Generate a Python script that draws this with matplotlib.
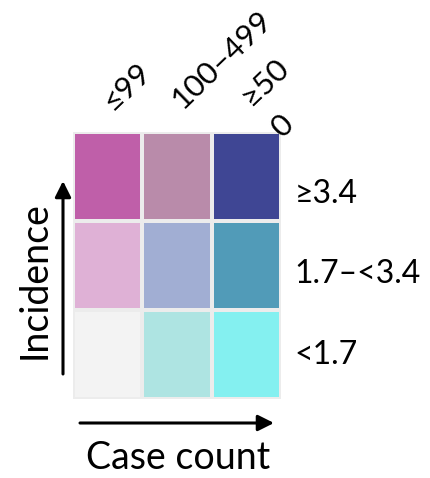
import numpy as np
import matplotlib
matplotlib.use('Agg')
import matplotlib.pyplot as plt
from matplotlib.colors import ListedColormap
from matplotlib.patches import FancyArrowPatch
from matplotlib.transforms import offset_copy

plt.rcParams['font.family'] = ['Lato', 'DejaVu Sans']

# bivariate legend: case count (columns) x incidence (rows, bottom -> top)
case_count_labels = ['≤99', '100–499', '≥50\n0']
incidence_labels = ['<1.7', '1.7–<3.4', '≥3.4']
cell_colors = [
    ['#F3F3F3', '#AEE4E2', '#84F0F0'],   # <1.7
    ['#DFB1D6', '#A1AED3', '#519BB8'],   # 1.7-<3.4
    ['#BF5FA9', '#B98BAA', '#3F4694'],   # >=3.4
]
x_title = 'Case count'
y_title = 'Incidence'

W, H = 431, 478
fig = plt.figure(figsize=(W / 100, H / 100), dpi=100)
ax = fig.add_axes([73 / W, 1 - 399 / H, 208 / W, 267 / H])

flat = [c for row in cell_colors for c in row]
idx = np.arange(len(flat)).reshape(3, 3)
ax.pcolormesh(np.arange(4), np.arange(4), idx, cmap=ListedColormap(flat),
              edgecolors='#ececec', linewidth=1.5)
ax.set_xlim(0, 3)
ax.set_ylim(0, 3)
ax.axis('off')

# column labels, rotated 45 deg; wrapped lines step down-right
for i, lab in enumerate(case_count_labels):
    for k, line in enumerate(lab.split('\n')):
        tr = offset_copy(ax.transData, fig=fig, x=22 * k, y=-23 * k,
                         units='points')
        ax.text(i + 0.58, 3.22 + 0.03 * i, line, rotation=44,
                rotation_mode='anchor', ha='left', va='baseline',
                fontsize=22.5, transform=tr, clip_on=False, zorder=3)

# row labels on the right
label_y = [0.5, 1.41, 2.3]
for y, lab in zip(label_y, incidence_labels):
    ax.text(3.2, y, lab, ha='left', va='center', fontsize=23, clip_on=False)

# arrows
arrow = dict(arrowstyle='-|>', lw=2.2, color='black', mutation_scale=24,
             shrinkA=0, shrinkB=0)
fig.add_artist(FancyArrowPatch((63 / W, 1 - 374 / H), (63 / W, 1 - 181 / H),
                               transform=fig.transFigure, **arrow))
fig.add_artist(FancyArrowPatch((80 / W, 1 - 423 / H), (274 / W, 1 - 423 / H),
                               transform=fig.transFigure, **arrow))

fig.text(35 / W, 1 - 280 / H, y_title, rotation=90, ha='center', va='center',
         fontsize=27)
fig.text(178 / W, 1 - 458 / H, x_title, ha='center', va='center', fontsize=27)

fig.savefig('out.png', dpi=100)
